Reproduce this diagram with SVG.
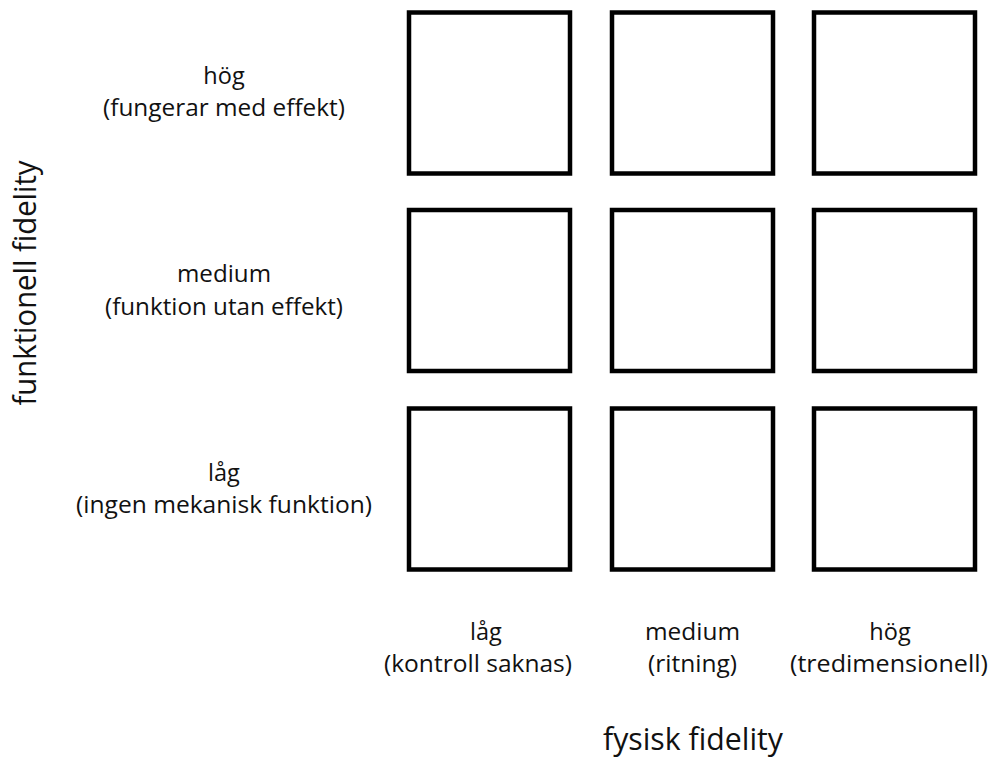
<svg xmlns="http://www.w3.org/2000/svg" width="993" height="760" viewBox="0 0 993 760">
  <style>
    .cell { fill: #ffffff; stroke: #000000; stroke-width: 4.5; }
    .lbl { font-family: "Open Sans", "Liberation Sans", sans-serif; font-size: 23.5px; fill: #111111; text-anchor: middle; }
    .axis { font-family: "Open Sans", "Liberation Sans", sans-serif; font-size: 31px; fill: #111111; text-anchor: middle; }
  </style>
  <rect width="993" height="760" fill="#ffffff"/>

  <!-- 3x3 grid of cells: columns = physical fidelity, rows = functional fidelity -->
  <g id="cell-r1-c1"><rect class="cell" x="409" y="12.5" width="161" height="161"/></g>
  <g id="cell-r1-c2"><rect class="cell" x="612" y="12.5" width="161" height="161"/></g>
  <g id="cell-r1-c3"><rect class="cell" x="814" y="12.5" width="161" height="161"/></g>
  <g id="cell-r2-c1"><rect class="cell" x="409" y="210" width="161" height="161"/></g>
  <g id="cell-r2-c2"><rect class="cell" x="612" y="210" width="161" height="161"/></g>
  <g id="cell-r2-c3"><rect class="cell" x="814" y="210" width="161" height="161"/></g>
  <g id="cell-r3-c1"><rect class="cell" x="409" y="408.5" width="161" height="161"/></g>
  <g id="cell-r3-c2"><rect class="cell" x="612" y="408.5" width="161" height="161"/></g>
  <g id="cell-r3-c3"><rect class="cell" x="814" y="408.5" width="161" height="161"/></g>

  <!-- row labels (functional fidelity levels) -->
  <g id="row-labels">
    <text class="lbl" x="224" y="84">hög</text>
    <text class="lbl" x="224" y="116" textLength="242" lengthAdjust="spacingAndGlyphs">(fungerar med effekt)</text>
    <text class="lbl" x="224" y="282" textLength="94" lengthAdjust="spacingAndGlyphs">medium</text>
    <text class="lbl" x="224" y="315" textLength="238" lengthAdjust="spacingAndGlyphs">(funktion utan effekt)</text>
    <text class="lbl" x="224" y="481">låg</text>
    <text class="lbl" x="224" y="513" textLength="296" lengthAdjust="spacingAndGlyphs">(ingen mekanisk funktion)</text>
  </g>

  <!-- column labels (physical fidelity levels) -->
  <g id="col-labels">
    <text class="lbl" x="486" y="640">låg</text>
    <text class="lbl" x="478" y="672" textLength="188" lengthAdjust="spacingAndGlyphs">(kontroll saknas)</text>
    <text class="lbl" x="692.5" y="640" textLength="95" lengthAdjust="spacingAndGlyphs">medium</text>
    <text class="lbl" x="692.5" y="672" textLength="89" lengthAdjust="spacingAndGlyphs">(ritning)</text>
    <text class="lbl" x="890" y="640">hög</text>
    <text class="lbl" x="889" y="672" textLength="198" lengthAdjust="spacingAndGlyphs">(tredimensionell)</text>
  </g>

  <!-- axis titles -->
  <g id="axis-titles">
    <text class="axis" x="693" y="750" textLength="180" lengthAdjust="spacingAndGlyphs">fysisk fidelity</text>
    <text class="axis" transform="translate(36 283) rotate(-90)" x="0" y="0" textLength="245" lengthAdjust="spacingAndGlyphs">funktionell fidelity</text>
  </g>
</svg>
